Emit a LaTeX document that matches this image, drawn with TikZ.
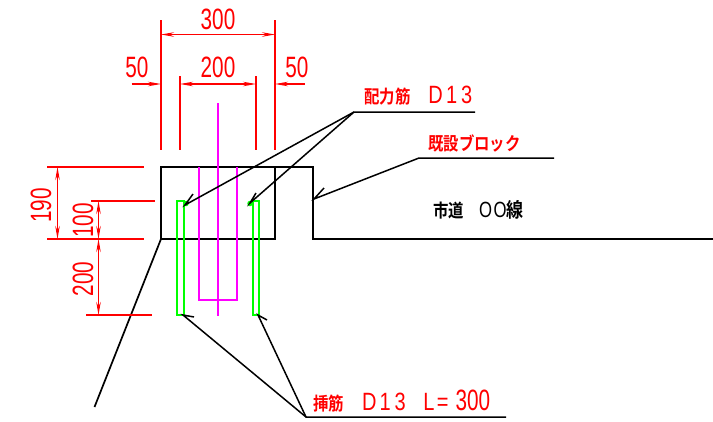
\documentclass[tikz,border=0pt]{standalone}
\usepackage{fontspec}
\setmainfont{Liberation Sans}
\newfontfamily\cjk[BoldFont={Noto Sans CJK JP Bold}]{Noto Sans CJK JP}
\usetikzlibrary{arrows.meta}
\definecolor{cadred}{RGB}{255,0,0}
\definecolor{cadgreen}{RGB}{0,255,0}
\definecolor{cadmag}{RGB}{255,0,255}
\newcommand\dimnum[1]{\scalebox{0.74}[1.05]{\fontsize{28}{28}\selectfont #1}}
\newcommand\cadnum[1]{\scalebox{0.8}[1]{\fontsize{25}{25}\selectfont #1}}
\newcommand\kanji[2][15.4]{\scalebox{1}[1.18]{\fontsize{#1}{#1}\cjk #2}}
\tikzset{
  x=1pt,y=-1pt,
  ext/.style={draw=cadred,line width=1.7pt},
  dimline/.style={draw=cadred,line width=1.1pt,{Stealth[length=13pt,width=4.5pt]}-{Stealth[length=13pt,width=4.5pt]}},
  dimone/.style={draw=cadred,line width=1.1pt,-{Stealth[length=13pt,width=4.5pt]}},
  outline/.style={draw=black,line width=1.7pt},
  leader/.style={draw=black,line width=1.5pt},
  rebar/.style={draw=cadgreen,line width=1.7pt},
  core/.style={draw=cadmag,line width=1.7pt},
  dimtext/.style={text=cadred,inner sep=0pt},
  dimside/.style={text=cadred,inner sep=0pt,rotate=90},
  label/.style={text=cadred,inner sep=0pt,anchor=west},
  blacklabel/.style={text=black,inner sep=0pt,anchor=west},
  spot/.style={circle,fill=cadgreen,inner sep=0pt,minimum size=5.5pt},
}
\begin{document}
\begin{tikzpicture}
\useasboundingbox (0,0) rectangle (713,421);
% coordinates
\coordinate (bTL) at (161,167);
\coordinate (bBL) at (161,239);
\coordinate (bTR) at (275,167);
\coordinate (bBR) at (275,239);
\coordinate (sTop) at (313,167);
\coordinate (sBot) at (313,239);
\coordinate (rEnd) at (713,239);
\coordinate (slope) at (94.5,407);
% block
\draw[outline] (bBL) -- (bTL) -- (sTop) -- (sBot) -- (rEnd);
\draw[outline] (bTR) -- (bBR) -- (bBL) -- (slope);
% magenta
\coordinate (mT) at (218,103); \coordinate (mB) at (218,316);
\draw[core] (mT) -- (mB);
\draw[core] (199,167) -- (199,300) -- (237,300) -- (237,167);
% green
\draw[rebar] (184,315) -- (184,201) -- (177,201) -- (177,315) -- cycle;
\draw[rebar] (253,315) -- (253,201) -- (259,201) -- (259,315) -- cycle;
\node[spot] (dotL) at (186,203.5) {};
\node[spot] (dotR) at (250,203.5) {};
% extension lines
\draw[ext] (161,20) -- (161,150);
\draw[ext] (275,20) -- (275,150);
\draw[ext] (180,76) -- (180,150);
\draw[ext] (256,76) -- (256,150);
\draw[ext] (47,167) -- (144,167);
\draw[ext] (91,201) -- (155,201);
\draw[ext] (47,239) -- (144,239);
\draw[ext] (86,315) -- (152,315);
% dimension lines
\draw[dimline] (161,34.5) -- (275,34.5);
\draw[dimline] (180,84) -- (256,84);
\draw[dimone] (131.5,84) -- (161,84);
\draw[dimone] (304.5,84) -- (275,84);
\draw[dimline] (57.5,167) -- (57.5,239);
\draw[dimline] (98.5,201) -- (98.5,239);
\draw[dimline] (98.5,239) -- (98.5,315);
% dimension text
\node[dimtext] (t300) at (218,19) {\dimnum{300}};
\node[dimtext] (t200) at (218,67.5) {\dimnum{200}};
\node[dimtext] (t50a) at (137,67.5) {\dimnum{50}};
\node[dimtext] (t50b) at (297,67.5) {\dimnum{50}};
\node[dimside] (t190) at (41,205.5) {\dimnum{190}};
\node[dimside] (t100) at (83,220.5) {\dimnum{100}};
\node[dimside] (t200v) at (83,279) {\dimnum{200}};
% leaders
\coordinate (lA) at (354,112); \coordinate (lAe) at (475,112);
\coordinate (lB) at (419,158); \coordinate (lBe) at (554,158);
\coordinate (lC) at (306,417); \coordinate (lCe) at (506,417);
\coordinate (tA1) at (185,205); \coordinate (tA2) at (250,203);
\coordinate (tB) at (314,199);
\coordinate (tC1) at (183,315); \coordinate (tC2) at (258,315);
\draw[leader] (lAe) -- (lA) -- (tA1) -- (193,194);
\draw[leader] (lA) -- (tA2) -- (256,193);
\draw[leader] (lBe) -- (lB) -- (tB) -- (324,188);
\draw[leader] (lCe) -- (lC) -- (tC1) -- (194,317);
\draw[leader] (lC) -- (tC2) -- (267,320);
% labels
\node[label] (lblA) at (364,96) {\kanji{\bfseries 配力筋}\hspace{18pt}\cadnum{D\hspace{4pt}1\hspace{5pt}3}};
\node[label] (lblB) at (428,143.5) {\kanji{\bfseries 既設ブロック}};
\node[label] (lblC) at (313,401) {\kanji{\bfseries 挿筋}\hspace{18pt}\cadnum{D\hspace{4pt}1\hspace{5pt}3\hspace{22pt}L\hspace{3pt}=}\hspace{7pt}\dimnum{300}};
\node[blacklabel] (lblD) at (433,210) {\kanji{\bfseries 市道}\hspace{15pt}{\fontsize{22}{22}\selectfont\scalebox{0.76}[1]{O\hspace{2pt}O}}\kanji[17]{\bfseries 線}};
\end{tikzpicture}
\end{document}
